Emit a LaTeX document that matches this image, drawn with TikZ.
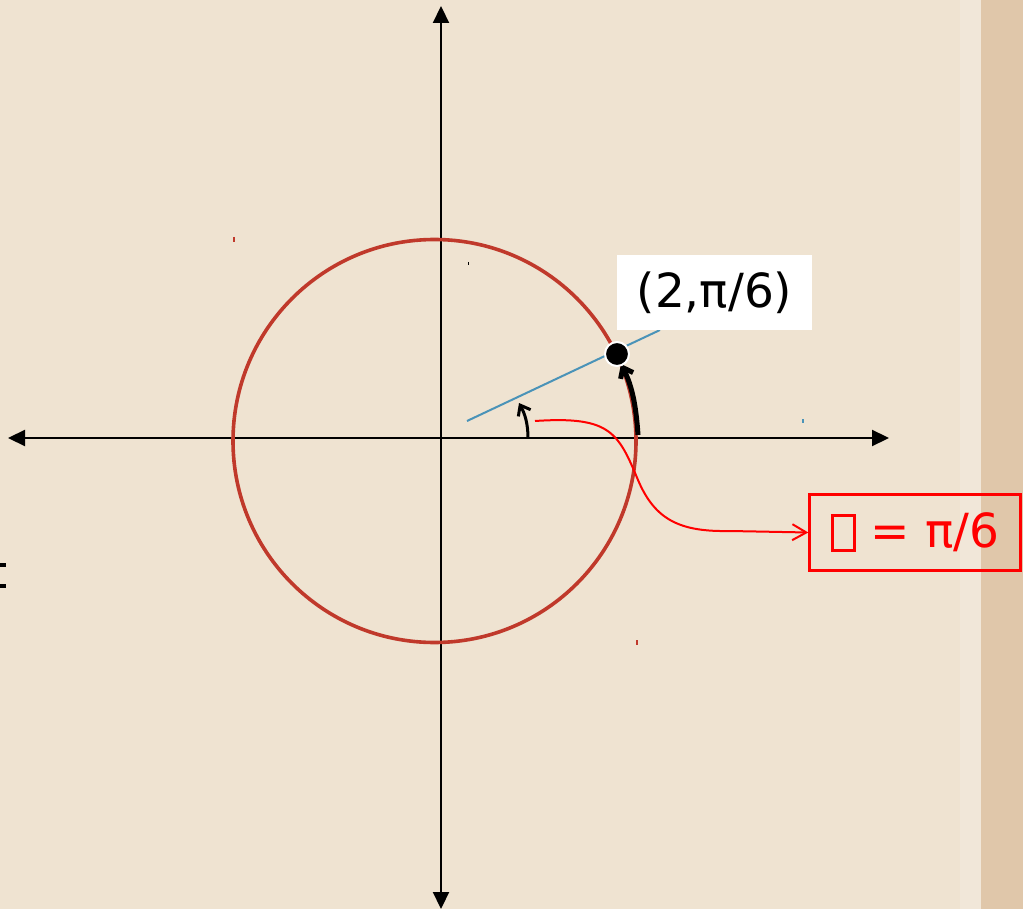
\documentclass[tikz,border=0pt]{standalone}
\usepackage{fontspec}
\setmainfont{DejaVu Sans}
\usetikzlibrary{arrows.meta}
\definecolor{bgbeige}{HTML}{EFE3D1}
\definecolor{bgstrip}{HTML}{E0C7AA}
\definecolor{bglight}{HTML}{F1E7D9}
\definecolor{circred}{HTML}{C0392B}
\definecolor{rayblue}{HTML}{4A93B8}
\newcommand\tofubox{\begingroup\setlength{\fboxsep}{0pt}\setlength{\fboxrule}{3pt}\raisebox{-1pt}{\fbox{\rule{0pt}{32pt}\hspace{19pt}}}\endgroup}
\tikzset{
  axis/.style={line width=2.2pt,-{Triangle[length=17pt,width=16pt]}},
  barb/.style={-{Straight Barb[length=9pt,width=14pt]}},
  lbl/.style={font=\fontsize{47}{50}\selectfont,inner sep=0pt},
}
\begin{document}
\begin{tikzpicture}[x=1pt,y=-1pt]
\useasboundingbox (0,0) rectangle (1023,909);
\fill[bgbeige] (0,0) rectangle (1023,909);
\fill[bglight] (960,0) rectangle (981,909);
\fill[bgstrip] (981,0) rectangle (1023,909);
% axes
\coordinate (O) at (441,438);
\coordinate (xl) at (8,438);
\coordinate (xr) at (889,438);
\coordinate (yt) at (441,6);
\coordinate (yb) at (441,909);
\draw[axis] (O) -- (xr);
\draw[axis] (O) -- (xl);
\draw[axis] (O) -- (yt);
\draw[axis] (O) -- (yb);
% circle
\draw[circred,line width=3.6pt] (434.5,441) circle[radius=201.5];
% ray
\coordinate (r0) at (467,421);
\coordinate (r1) at (660,330);
\draw[rayblue,line width=2pt] (r0) -- (r1);
% arc along circle
\draw[barb,line width=5pt] (638,435) .. controls (636,405) and (632,386) .. (621,364);
% angle arc
\draw[barb,line width=3pt] (528,438) .. controls (528,424) and (525,414) .. (519,403);
% point
\node[circle,fill=black,draw=white,line width=2pt,minimum size=24pt,inner sep=0pt] (P) at (617,354) {};
% label box
\node[lbl,fill=white,minimum width=195pt,minimum height=75pt] (lab) at (714.5,292.5) {(2,π/6)};
% theta box
\node[lbl,draw=red,line width=2.4pt,text=red,minimum width=211pt,minimum height=76pt] (th) at (915,532.5) {\tofubox{} = π/6};
% connector
\coordinate (c0) at (535,421);
\draw[red,line width=2pt,-{Straight Barb[length=14pt,width=16pt]}] (c0) .. controls (610,416) and (618,432) .. (638,480) .. controls (655,520) and (680,532) .. (730,531) -- (th.west);
% stray marks
\draw[line width=4pt] (0,565) -- (6,565);
\draw[line width=4pt] (0,586) -- (6,586);
\draw[circred,line width=1.2pt] (234,237) -- (234,242);
\draw[circred,line width=1.2pt] (637,640) -- (637,645);
\draw[rayblue,line width=1.2pt] (803,419) -- (803,423);
\draw[line width=1pt] (468,262) -- (468,265);
\end{tikzpicture}
\end{document}
